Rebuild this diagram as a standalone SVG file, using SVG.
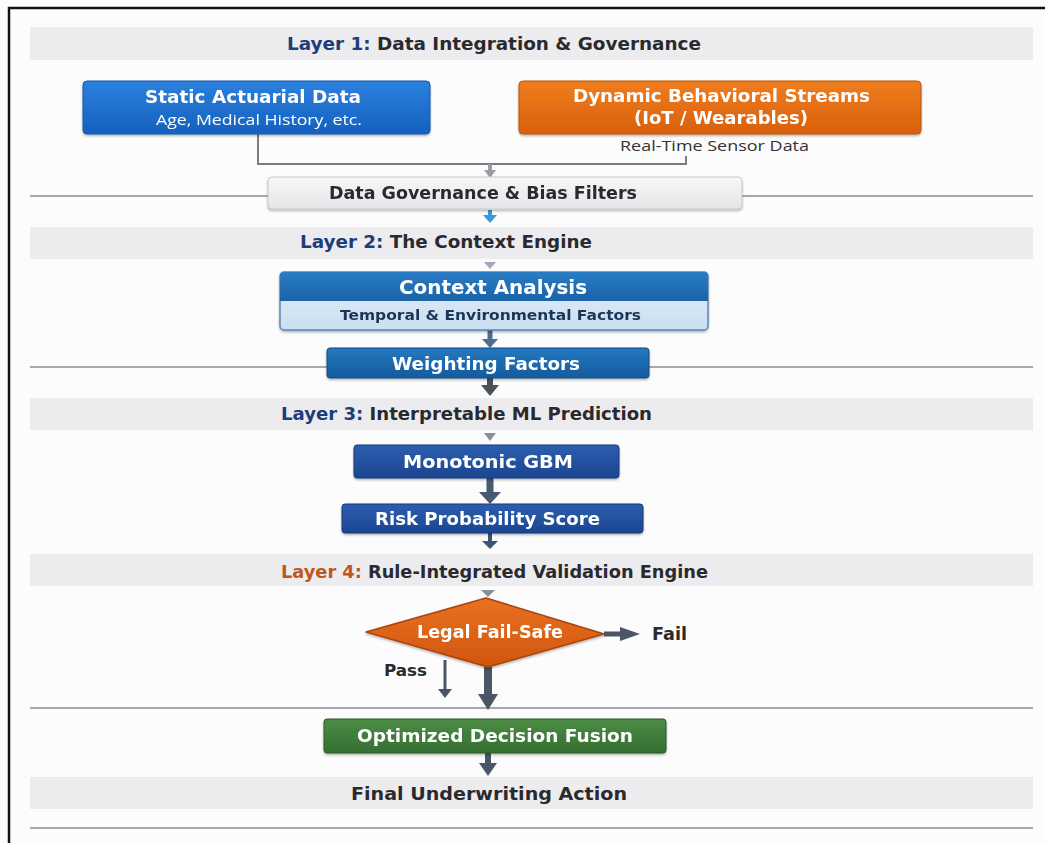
<svg xmlns="http://www.w3.org/2000/svg" width="1045" height="843" viewBox="0 0 1045 843">
  <defs>
    <style>
      .band { fill: #ececef; }
      .rule { stroke: #8a8d93; stroke-width: 1.6; fill: none; }
      text { font-family: "DejaVu Sans", "Liberation Sans", sans-serif; font-weight: 700; }
      .title { font-size: 17px; fill: #2a2a2e; }
      .lbl { fill: #ffffff; }
      .sub { font-family: "Open Sans", "Liberation Sans", sans-serif; font-weight: 400; fill: #ffffff; font-size: 14.5px; }
      .note { font-family: "Open Sans", "Liberation Sans", sans-serif; font-weight: 400; font-size: 14.5px; fill: #333; }
      .dark { fill: #2a2a2e; }
      .conn { stroke: #7b7d82; stroke-width: 2; fill: none; }
    </style>
    <linearGradient id="gBlue" x1="0" y1="0" x2="0" y2="1">
      <stop offset="0" stop-color="#2c80dd"/>
      <stop offset="1" stop-color="#1561bf"/>
    </linearGradient>
    <linearGradient id="gOrange" x1="0" y1="0" x2="0" y2="1">
      <stop offset="0" stop-color="#f07d1e"/>
      <stop offset="1" stop-color="#d8600b"/>
    </linearGradient>
    <linearGradient id="gGrey" x1="0" y1="0" x2="0" y2="1">
      <stop offset="0" stop-color="#f7f7f8"/>
      <stop offset="1" stop-color="#e6e6e9"/>
    </linearGradient>
    <linearGradient id="gCtx" x1="0" y1="0" x2="0" y2="1">
      <stop offset="0" stop-color="#2a7cc4"/>
      <stop offset="1" stop-color="#1a63a8"/>
    </linearGradient>
    <linearGradient id="gCtxLow" x1="0" y1="0" x2="0" y2="1">
      <stop offset="0" stop-color="#e4eff9"/>
      <stop offset="1" stop-color="#cadff2"/>
    </linearGradient>
    <linearGradient id="gWeight" x1="0" y1="0" x2="0" y2="1">
      <stop offset="0" stop-color="#2479c0"/>
      <stop offset="1" stop-color="#155a9c"/>
    </linearGradient>
    <linearGradient id="gNavy" x1="0" y1="0" x2="0" y2="1">
      <stop offset="0" stop-color="#2d5eb0"/>
      <stop offset="1" stop-color="#1c4590"/>
    </linearGradient>
    <linearGradient id="gDiamond" x1="0" y1="0" x2="0" y2="1">
      <stop offset="0" stop-color="#e9711f"/>
      <stop offset="1" stop-color="#d0560f"/>
    </linearGradient>
    <linearGradient id="gGreen" x1="0" y1="0" x2="0" y2="1">
      <stop offset="0" stop-color="#4c8c46"/>
      <stop offset="1" stop-color="#356f31"/>
    </linearGradient>
    <filter id="shadow" x="-10%" y="-20%" width="120%" height="150%">
      <feDropShadow dx="0" dy="1.5" stdDeviation="1.2" flood-color="#000" flood-opacity="0.3"/>
    </filter>
  </defs>

  <!-- page -->
  <rect x="0" y="0" width="1045" height="843" fill="#fcfcfc"/>
  <path d="M9 843 V8 H1045" fill="none" stroke="#111" stroke-width="2.5"/>

  <!-- layer bands -->
  <g id="bands">
    <rect class="band" x="30" y="27" width="1003" height="33"/>
    <rect class="band" x="30" y="227" width="1003" height="32"/>
    <rect class="band" x="30" y="398" width="1003" height="32"/>
    <rect class="band" x="30" y="554" width="1003" height="32"/>
    <rect class="band" x="30" y="777" width="1003" height="32"/>
  </g>

  <!-- separator rules -->
  <g id="rules">
    <line class="rule" x1="30" y1="196" x2="268" y2="196"/>
    <line class="rule" x1="742" y1="196" x2="1033" y2="196"/>
    <line class="rule" x1="30" y1="367" x2="327" y2="367"/>
    <line class="rule" x1="649" y1="367" x2="1033" y2="367"/>
    <line class="rule" x1="30" y1="708" x2="1033" y2="708"/>
    <line class="rule" x1="30" y1="828" x2="1033" y2="828"/>
  </g>

  <!-- band titles -->
  <g id="layer1-title">
    <text class="title" x="287" y="50" textLength="414" lengthAdjust="spacingAndGlyphs"><tspan fill="#1d3d7a">Layer 1:</tspan> Data Integration &amp; Governance</text>
  </g>
  <g id="layer2-title">
    <text class="title" x="300" y="248" textLength="292" lengthAdjust="spacingAndGlyphs"><tspan fill="#1d3d7a">Layer 2:</tspan> The Context Engine</text>
  </g>
  <g id="layer3-title">
    <text class="title" x="281" y="420" textLength="371" lengthAdjust="spacingAndGlyphs"><tspan fill="#1d3d7a">Layer 3:</tspan> Interpretable ML Prediction</text>
  </g>
  <g id="layer4-title">
    <text class="title" x="281" y="578" textLength="427" lengthAdjust="spacingAndGlyphs"><tspan fill="#c0561c">Layer 4:</tspan> Rule-Integrated Validation Engine</text>
  </g>

  <!-- connectors -->
  <g id="connectors">
    <path class="conn" d="M258 134 V164 H686 V156"/>
    <line x1="490" y1="164" x2="490" y2="171" stroke="#9c9ca6" stroke-width="4"/>
    <path d="M484 170 L496 170 L490 178 Z" fill="#9c9ca6"/>
    <!-- governance to layer 2 -->
    <line x1="490" y1="210" x2="490" y2="216" stroke="#3a9ad9" stroke-width="4"/>
    <path d="M483 215 L497 215 L490 223 Z" fill="#3a9ad9"/>
    <path d="M484 262 L496 262 L490 269 Z" fill="#a8a3b6"/>
    <!-- context to weighting -->
    <line x1="490" y1="330" x2="490" y2="340" stroke="#4d6d8d" stroke-width="5"/>
    <path d="M482 339 L498 339 L490 348 Z" fill="#4d6d8d"/>
    <!-- weighting to layer 3 -->
    <line x1="490" y1="378" x2="490" y2="386" stroke="#4c5058" stroke-width="6"/>
    <path d="M481 385 L499 385 L490 396 Z" fill="#4c5058"/>
    <path d="M484 433 L496 433 L490 441 Z" fill="#8a8e98"/>
    <!-- gbm to risk -->
    <line x1="490" y1="478" x2="490" y2="493" stroke="#465a72" stroke-width="7"/>
    <path d="M479 492 L501 492 L490 504 Z" fill="#465a72"/>
    <!-- risk to layer 4 -->
    <line x1="490" y1="533" x2="490" y2="542" stroke="#3c5570" stroke-width="4"/>
    <path d="M482 541 L498 541 L490 549 Z" fill="#3c5570"/>
    <path d="M481 590 L495 590 L488 597 Z" fill="#8a8e98"/>
    <!-- fail branch -->
    <line x1="604" y1="634" x2="622" y2="634" stroke="#4a5566" stroke-width="5"/>
    <path d="M620 627 L640 634 L620 641 Z" fill="#4a5566"/>
    <!-- pass branch -->
    <line x1="445" y1="660" x2="445" y2="690" stroke="#4a5566" stroke-width="3"/>
    <path d="M438 689 L452 689 L445 698 Z" fill="#4a5566"/>
    <line x1="488" y1="667" x2="488" y2="696" stroke="#4a5566" stroke-width="8"/>
    <path d="M478 694 L498 694 L488 710 Z" fill="#4a5566"/>
    <!-- fusion to final action -->
    <line x1="488" y1="753" x2="488" y2="764" stroke="#4a5566" stroke-width="6"/>
    <path d="M479 763 L497 763 L488 776 Z" fill="#4a5566"/>
  </g>

  <!-- nodes -->
  <g id="static-data" filter="url(#shadow)">
    <rect x="83" y="81" width="347" height="53" rx="4" fill="url(#gBlue)" stroke="#1656a8" stroke-width="1"/>
    <text class="lbl" x="145" y="103" font-size="18" textLength="216" lengthAdjust="spacingAndGlyphs">Static Actuarial Data</text>
    <text class="sub" x="156" y="125" textLength="206" lengthAdjust="spacingAndGlyphs">Age, Medical History, etc.</text>
  </g>

  <g id="dynamic-streams" filter="url(#shadow)">
    <rect x="519" y="81" width="402" height="53" rx="4" fill="url(#gOrange)" stroke="#b9540c" stroke-width="1"/>
    <text class="lbl" x="573" y="102" font-size="17.5" textLength="297" lengthAdjust="spacingAndGlyphs">Dynamic Behavioral Streams</text>
    <text class="lbl" x="634" y="124" font-size="17.5" textLength="174" lengthAdjust="spacingAndGlyphs">(IoT / Wearables)</text>
  </g>
  <text class="note" x="620" y="151" textLength="189" lengthAdjust="spacingAndGlyphs">Real-Time Sensor Data</text>

  <g id="governance" filter="url(#shadow)">
    <rect x="268" y="177" width="474" height="32" rx="4" fill="url(#gGrey)" stroke="#c9c9ce" stroke-width="1"/>
    <text class="dark" x="329" y="199" font-size="17.5" textLength="308" lengthAdjust="spacingAndGlyphs">Data Governance &amp; Bias Filters</text>
  </g>

  <g id="context-analysis" filter="url(#shadow)">
    <rect x="280" y="272" width="428" height="58" rx="4" fill="url(#gCtxLow)" stroke="#5b86b3" stroke-width="1.5"/>
    <path d="M284 272 H704 Q708 272 708 276 V301 H280 V276 Q280 272 284 272 Z" fill="url(#gCtx)"/>
    <text class="lbl" x="399" y="294" font-size="19" textLength="188" lengthAdjust="spacingAndGlyphs">Context Analysis</text>
    <text x="340" y="320" font-size="14.5" fill="#1c3556" textLength="301" lengthAdjust="spacingAndGlyphs">Temporal &amp; Environmental Factors</text>
  </g>

  <g id="weighting" filter="url(#shadow)">
    <rect x="327" y="348" width="322" height="30" rx="3" fill="url(#gWeight)" stroke="#0f4a82" stroke-width="1"/>
    <text class="lbl" x="392" y="370" font-size="17.5" textLength="188" lengthAdjust="spacingAndGlyphs">Weighting Factors</text>
  </g>

  <g id="gbm" filter="url(#shadow)">
    <rect x="354" y="445" width="265" height="33" rx="3" fill="url(#gNavy)" stroke="#163a7a" stroke-width="1"/>
    <text class="lbl" x="403" y="468" font-size="17.5" textLength="170" lengthAdjust="spacingAndGlyphs">Monotonic GBM</text>
  </g>

  <g id="risk-score" filter="url(#shadow)">
    <rect x="342" y="504" width="301" height="29" rx="3" fill="url(#gNavy)" stroke="#163a7a" stroke-width="1"/>
    <text class="lbl" x="375" y="525" font-size="17.5" textLength="225" lengthAdjust="spacingAndGlyphs">Risk Probability Score</text>
  </g>

  <g id="legal-failsafe" filter="url(#shadow)">
    <polygon points="366,632 486,598 604,634 488,667" fill="url(#gDiamond)" stroke="#a9440c" stroke-width="1.5" stroke-linejoin="round"/>
    <text class="lbl" x="417" y="638" font-size="17.5" textLength="146" lengthAdjust="spacingAndGlyphs">Legal Fail-Safe</text>
  </g>
  <text class="dark" x="652" y="640" font-size="17.5" textLength="35" lengthAdjust="spacingAndGlyphs">Fail</text>
  <text class="dark" x="384" y="676" font-size="16.5" textLength="43" lengthAdjust="spacingAndGlyphs">Pass</text>

  <g id="decision-fusion" filter="url(#shadow)">
    <rect x="324" y="719" width="342" height="34" rx="3" fill="url(#gGreen)" stroke="#2a5a27" stroke-width="1"/>
    <text class="lbl" x="357" y="742" font-size="17.5" textLength="276" lengthAdjust="spacingAndGlyphs">Optimized Decision Fusion</text>
  </g>

  <g id="final-action">
    <text class="dark" x="351" y="800" font-size="17.5" textLength="276" lengthAdjust="spacingAndGlyphs">Final Underwriting Action</text>
  </g>
</svg>
